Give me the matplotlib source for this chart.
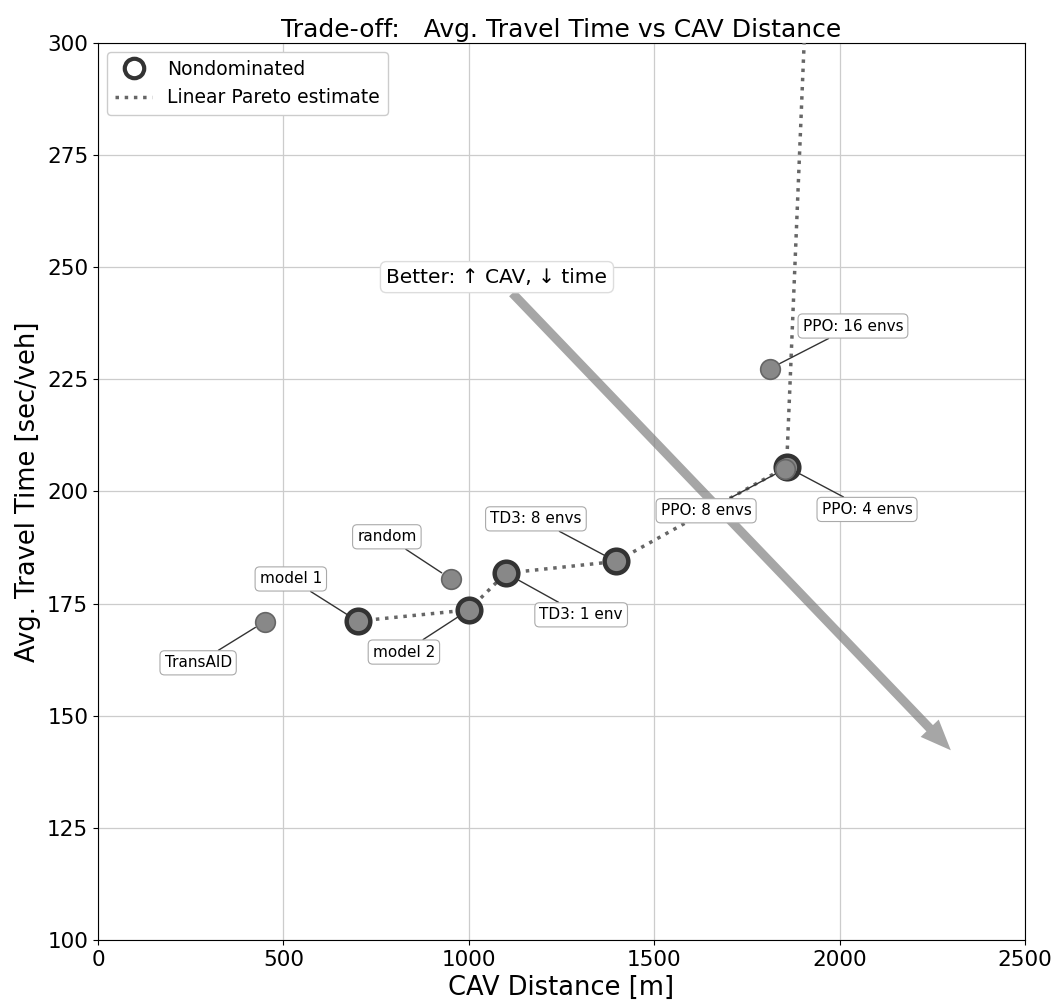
import matplotlib
matplotlib.use("Agg")
import matplotlib.pyplot as plt
from matplotlib.lines import Line2D

# Methods: CAV distance [m] and average travel time [sec/veh]
labels = ["TransAID", "model 1", "model 2", "random", "TD3: 1 env",
          "TD3: 8 envs", "PPO: 4 envs", "PPO: 8 envs", "PPO: 16 envs"]
cav_dist = [450, 700, 1000, 952, 1100, 1397, 1857, 1852, 1812]
travel_time = [171.0, 171.1, 173.6, 180.5, 181.8, 184.4, 205.5, 205.0, 227.4]
nondominated = [False, True, True, False, True, True, True, False, False]

# Label box positions (data coordinates)
label_x = [270, 520, 825, 779, 1303, 1181, 2074, 1640, 2036]
label_y = [161.8, 180.5, 164.2, 189.9, 172.5, 193.9, 196.0, 195.7, 236.9]

# Linear Pareto estimate through the nondominated set, extended upward
front_x = [700, 1000, 1100, 1397, 1857, 1960]
front_y = [171.1, 173.6, 181.8, 184.4, 205.5, 411.0]

fig = plt.figure(figsize=(10.57, 10.02), dpi=100)
ax = fig.add_axes([98 / 1057, 1 - 940 / 1002, 927 / 1057, 897 / 1002])

ax.set_xlim(0, 2500)
ax.set_ylim(100, 300)
ax.grid(True, color="#cccccc", linewidth=0.9)
ax.set_axisbelow(True)

# Direction-of-improvement arrow
ax.annotate("Better: \u2191 CAV, \u2193 time", xy=(2300, 142.3), xytext=(1076, 247.8),
            fontsize=14.5, ha="center", va="center", zorder=2,
            bbox=dict(boxstyle="round,pad=0.3", fc="white", ec="#dddddd", lw=1),
            arrowprops=dict(arrowstyle="simple,head_length=22,head_width=18,tail_width=6.5",
                            mutation_scale=1, facecolor="gray", edgecolor="none",
                            alpha=0.7, shrinkA=0, shrinkB=0))

ax.plot(front_x, front_y, linestyle=":", color="#666666", lw=2.5, zorder=3)

for x, y, nd in zip(cav_dist, travel_time, nondominated):
    if nd:
        ax.scatter(x, y, s=290, facecolor="#888888", edgecolor="#333333",
                   linewidth=3.2, zorder=4)
for x, y, nd in zip(cav_dist, travel_time, nondominated):
    if not nd:
        ax.scatter(x, y, s=200, facecolor="#888888", edgecolor="#666666",
                   linewidth=1.2, zorder=5)

for lab, x, y, tx, ty in zip(labels, cav_dist, travel_time, label_x, label_y):
    ax.annotate(lab, xy=(x, y), xytext=(tx, ty), fontsize=11,
                ha="center", va="center", zorder=6,
                bbox=dict(boxstyle="round,pad=0.3", fc="white", ec="#aaaaaa", lw=0.8),
                arrowprops=dict(arrowstyle="-", color="#333333", lw=1,
                                shrinkA=0, shrinkB=8))

handles = [
    Line2D([], [], marker="o", linestyle="none", markersize=14,
           markerfacecolor="none", markeredgecolor="#333333", markeredgewidth=3),
    Line2D([], [], linestyle=":", color="#666666", lw=2.5),
]
ax.legend(handles, ["Nondominated", "Linear Pareto estimate"], loc="upper left",
          fontsize=13.5, framealpha=1, edgecolor="#cccccc")

ax.set_xlabel("CAV Distance [m]", fontsize=18.5)
ax.set_ylabel("Avg. Travel Time [sec/veh]", fontsize=18.5)
ax.set_title("Trade-off:   Avg. Travel Time vs CAV Distance", fontsize=18, pad=4)
ax.tick_params(labelsize=15.5)

fig.savefig("out.png", dpi=100)
